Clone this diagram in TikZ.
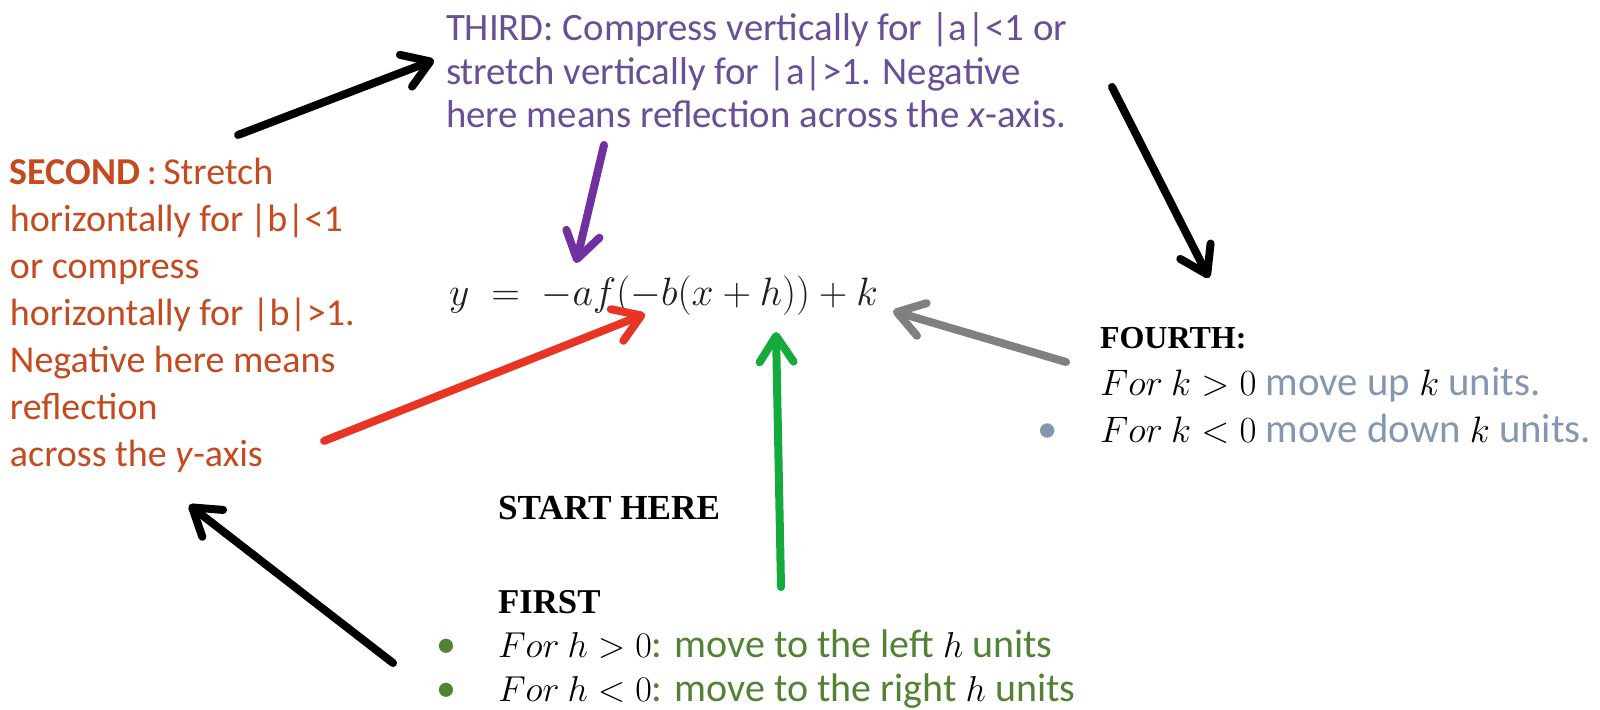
\RequirePackage{fix-cm}
\documentclass[tikz,border=0pt]{standalone}
\usepackage{fontspec}
\setmainfont{Carlito}
\newfontfamily\serifb{Liberation Serif}
\usetikzlibrary{arrows.meta}
\definecolor{purpTxt}{RGB}{106,78,150}
\definecolor{secTxt}{RGB}{196,74,32}
\definecolor{eqTxt}{RGB}{30,30,30}
\definecolor{blueTxt}{RGB}{132,151,176}
\definecolor{greenTxt}{RGB}{84,130,53}
\definecolor{purpArr}{RGB}{112,48,160}
\definecolor{redArr}{RGB}{232,52,36}
\definecolor{greenArr}{RGB}{20,170,60}
\definecolor{greyArr}{RGB}{128,128,128}
\newcommand\fourmath[1]{{\fontsize{18.4}{22}\selectfont$#1$}}
\newcommand\firstmath[1]{{\fontsize{18}{22}\selectfont$#1$}}
\begin{document}
\begin{tikzpicture}[x=0.5pt,y=-0.5pt,
  txt/.style={anchor=base west, inner sep=0pt, outer sep=0pt},
  arr/.style={line width=4pt, line cap=round, line join=round,
    -{Straight Barb[length=13pt,width=17pt,round]}}]
\useasboundingbox (0,0) rectangle (1600,710);
\fill[white] (0,0) rectangle (1600,710);

% THIRD
\node[txt, text=purpTxt] (third) at (446,41) {\vtop{\fontsize{19.4}{21.7}\selectfont
  \hbox{THIRD: Compress vertically for |a|<1 or}
  \hbox{stretch vertically for |a|>1. Negative}
  \hbox{here means reflection across the \textit{x}-axis.}}};

% SECOND
\node[txt, text=secTxt] (second) at (10,185) {\vtop{\fontsize{19}{23.5}\selectfont
  \hbox{\textbf{SECOND}\,:\,Stretch}
  \hbox{horizontally for\,|b|<1}
  \hbox{or compress}
  \hbox{horizontally for |b|>1.}
  \hbox{Negative here means}
  \hbox{reflection}
  \hbox{across the \textit{y}-axis}}};

% equation
\node[txt, text=eqTxt] (eq) at (449,306) {\fontsize{19.8}{22}\selectfont $y\;=\;-af(-b(x+h))+k$};

% FOURTH
\node[txt] (fourth) at (1100,349) {\vtop{\fontsize{20.4}{23.5}\selectfont
  \hbox{\serifb\bfseries\fontsize{16}{20}\selectfont FOURTH:}
  \hbox{\fourmath{For\ k>0} \textcolor{blueTxt}{move up} \fourmath{k} \textcolor{blueTxt}{units.}}
  \hbox{\llap{\textcolor{blueTxt}{•}\hspace{21pt}}\fourmath{For\ k<0} \textcolor{blueTxt}{move down} \fourmath{k} \textcolor{blueTxt}{units.}}}};

% START HERE
\node[txt] (start) at (498,520) {\serifb\bfseries\fontsize{17.6}{20}\selectfont START HERE};

% FIRST
\node[txt] (first) at (498,613) {\vtop{\fontsize{20}{22}\selectfont
  \hbox{\serifb\bfseries\fontsize{17.4}{20}\selectfont FIRST}
  \hbox{\llap{\textcolor{greenTxt}{•}\hspace{21pt}}\firstmath{For\ h>0}\textcolor{greenTxt}{: move to the left} \firstmath{h} \textcolor{greenTxt}{units}}
  \hbox{\llap{\textcolor{greenTxt}{•}\hspace{21pt}}\firstmath{For\ h<0}\textcolor{greenTxt}{: move to the right} \firstmath{h} \textcolor{greenTxt}{units}}}};

% arrow end points
\coordinate (a1s) at (238,135);  \coordinate (a1e) at (434,60);
\coordinate (a2s) at (604,145);  \coordinate (a2e) at (576,263);
\coordinate (a3s) at (1112,87);  \coordinate (a3e) at (1209,278);
\coordinate (a4s) at (324,441);  \coordinate (a4e) at (645,314);
\coordinate (a5s) at (781,587);  \coordinate (a5e) at (776,332);
\coordinate (a6s) at (1066,362); \coordinate (a6e) at (893,311);
\coordinate (a7s) at (393,663);  \coordinate (a7e) at (189,505);

\draw[arr, black] (a1s) -- (a1e);
\draw[arr, purpArr] (a2s) -- (a2e);
\draw[arr, black] (a3s) -- (a3e);
\draw[arr, redArr] (a4s) -- (a4e);
\draw[arr, greenArr] (a5s) -- (a5e);
\draw[arr, greyArr] (a6s) -- (a6e);
\draw[arr, black] (a7s) -- (a7e);
\end{tikzpicture}
\end{document}
